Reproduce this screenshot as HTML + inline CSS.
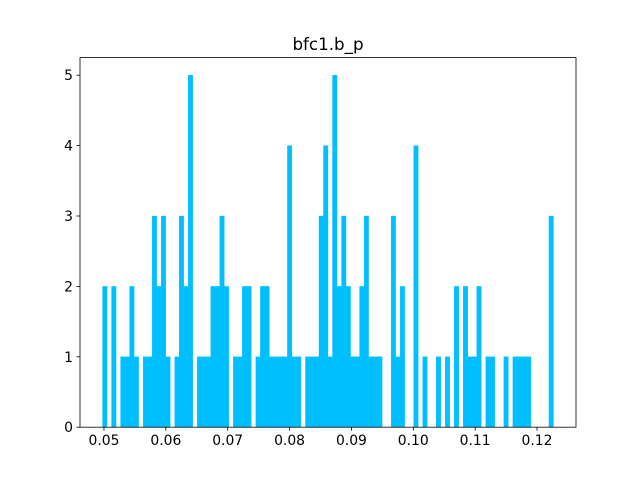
<!DOCTYPE html>
<html><head><meta charset="utf-8"><style>
html,body{margin:0;padding:0;background:#fff;}
svg text{font-family:"DejaVu Sans","Liberation Sans",sans-serif;fill:#000;}
</style></head><body>
<svg id="chart" width="640" height="480" xmlns="http://www.w3.org/2000/svg">
<rect x="0" y="0" width="640" height="480" fill="#fff"/>
<g id="bars"></g>
<g id="axes"></g>
<text x="328" y="50" font-size="16.7" text-anchor="middle">bfc1.b_p</text>
</svg>
<script>
const binStart = 0.04977;
const binEnd = 0.12266;
const counts = [2,0,2,0,1,1,2,1,0,1,1,3,2,3,1,0,1,3,2,5,0,1,1,1,2,2,3,2,0,1,1,2,2,0,1,2,2,1,1,1,1,4,1,1,0,1,1,1,3,4,1,5,2,3,2,1,1,2,3,1,1,1,0,0,3,1,2,0,0,4,0,1,0,0,1,0,1,0,2,0,2,1,1,2,0,1,1,0,0,1,0,1,1,1,1,0,0,0,0,3];
const xTicks = [0.05,0.06,0.07,0.08,0.09,0.10,0.11,0.12];
const xTickLabels = ["0.05","0.06","0.07","0.08","0.09","0.10","0.11","0.12"];
const yTicks = [0,1,2,3,4,5];
const yTickLabels = ["0","1","2","3","4","5"];

const L=80,R=576,T=57.6,B=427.2;
const span = binEnd-binStart;
const xmin = binStart-0.05*span, xmax = binEnd+0.05*span;
const ymax = 5.25;
function xs(v){return L+(v-xmin)/(xmax-xmin)*(R-L);}
function ys(v){return B-v/ymax*(B-T);}
const NS="http://www.w3.org/2000/svg";
const bars=document.getElementById('bars');
const bw=span/counts.length;
counts.forEach((c,i)=>{
  if(c<=0) return;
  const r=document.createElementNS(NS,'rect');
  const x0=xs(binStart+i*bw), x1=xs(binStart+(i+1)*bw);
  r.setAttribute('x',x0);r.setAttribute('width',x1-x0);
  r.setAttribute('y',ys(c));r.setAttribute('height',ys(0)-ys(c));
  r.setAttribute('fill','#00bfff');
  r.setAttribute('stroke','#00bfff');
  r.setAttribute('stroke-width','0.35');
  
  
  bars.appendChild(r);
});
const ax=document.getElementById('axes');
const frame=document.createElementNS(NS,'rect');
frame.setAttribute('x',L);frame.setAttribute('y',T);frame.setAttribute('width',R-L);frame.setAttribute('height',B-T);
frame.setAttribute('fill','none');frame.setAttribute('stroke','#000');frame.setAttribute('stroke-width','0.8');


ax.appendChild(frame);
xTicks.forEach((v,i)=>{
  const x=xs(v);
  const l=document.createElementNS(NS,'line');
  l.setAttribute('x1',x);l.setAttribute('x2',x);l.setAttribute('y1',B);l.setAttribute('y2',B+3.5);
  l.setAttribute('stroke','#000');l.setAttribute('stroke-width','0.8');
  
  
  ax.appendChild(l);
  const t=document.createElementNS(NS,'text');
  t.setAttribute('x',x);t.setAttribute('y',B+18);t.setAttribute('font-size','13.9');t.setAttribute('text-anchor','middle');
  t.textContent=xTickLabels[i];
  
  
  ax.appendChild(t);
});
yTicks.forEach((v,i)=>{
  const y=ys(v);
  const l=document.createElementNS(NS,'line');
  l.setAttribute('x1',L-3.5);l.setAttribute('x2',L);l.setAttribute('y1',y);l.setAttribute('y2',y);
  l.setAttribute('stroke','#000');l.setAttribute('stroke-width','0.8');
  
  
  ax.appendChild(l);
  const t=document.createElementNS(NS,'text');
  t.setAttribute('x',L-7);t.setAttribute('y',y+5);t.setAttribute('font-size','13.9');t.setAttribute('text-anchor','end');
  t.textContent=yTickLabels[i];
  
  
  ax.appendChild(t);
});
</script>
</body></html>
